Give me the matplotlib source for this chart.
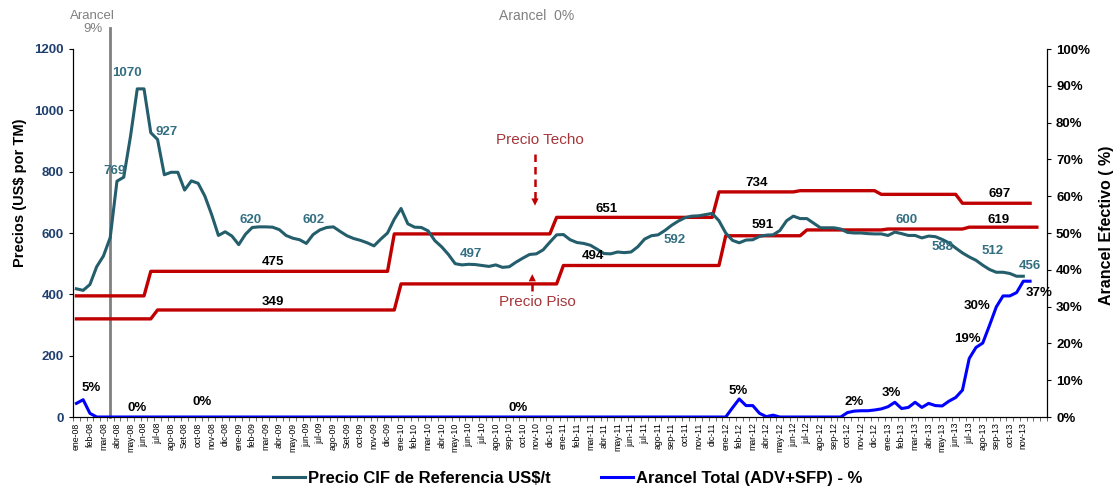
import matplotlib.pyplot as plt
import numpy as np

plt.rcParams['font.family'] = ['Liberation Sans', 'DejaVu Sans']

#---------------- data (semi-monthly, ene-08 .. nov-13)

meses = ['ene', 'feb', 'mar', 'abr', 'may', 'jun', 'jul', 'ago', 'sep', 'oct', 'nov', 'dic']
anios = ['08', '09', '10', '11', '12', '13']

precio_cif = [418, 413, 432, 490, 525, 585, 769, 782, 915, 1070, 1070, 927, 905, 790, 798, 798,
              740, 770, 762, 720, 660, 592, 604, 590, 562, 596, 618, 620, 620, 619, 611, 592,
              583, 578, 566, 595, 610, 618, 620, 605, 591, 582, 576, 568, 558, 580, 600, 645,
              680, 630, 619, 618, 607, 575, 555, 530, 500, 496, 498, 497, 494, 491, 496, 488,
              490, 505, 518, 530, 532, 545, 570, 594, 595, 578, 569, 566, 560, 547, 533, 532,
              538, 536, 538, 555, 580, 591, 594, 608, 625, 639, 650, 655, 656, 660, 664, 640,
              600, 576, 568, 577, 578, 589, 593, 594, 608, 640, 655, 647, 647, 632, 617, 617,
              617, 613, 602, 600, 600, 598, 597, 597, 592, 603, 598, 592, 592, 584, 590, 588,
              579, 568, 551, 535, 522, 511, 495, 481, 472, 472, 468, 459, 459]

# price band: level and number of half-month periods at that level
techo_nivel = [395, 475, 597, 651, 734, 738, 726, 697]
techo_periodos = [11, 36, 24, 24, 12, 12, 12, 11]
piso_nivel = [320, 349, 434, 494, 591, 610, 613, 619]
piso_periodos = [12, 36, 24, 24, 12, 12, 12, 11]

arancel = ([3.7, 4.7, 1.0] + [0.0] * 94 +
           [2.5, 4.9, 3.1, 3.1, 1.0, 0.1, 0.5] + [0.0] * 10 +
           [1.2, 1.6, 1.7, 1.7, 1.9, 2.2, 2.8, 4.0, 2.3, 2.6, 4.0, 2.6, 3.7, 3.1, 3.0,
            4.3, 5.3, 7.3, 15.9, 18.9, 20.1, 24.9, 29.9, 32.9, 32.9, 33.8, 36.9, 36.9])

precio_techo = np.repeat(techo_nivel, techo_periodos)
precio_piso = np.repeat(piso_nivel, piso_periodos)

etiquetas = []
for a in anios:
    for m in meses:
        if m == 'sep' and a in ('08', '09'):
            m = 'Set'
        etiquetas.append(m + '-' + a)
etiquetas = etiquetas[:-1]          # last label shown is nov-13

#---------------- figure

teal = '#245d6b'
teal_txt = '#336f81'
rojo = '#c00000'
azul = '#0000ff'
gris = '#808080'

fig = plt.figure(figsize=(11.16, 4.86), dpi=100)
ax = fig.add_axes([73/1116, 1-417/486, 974/1116, 368/486])
ax2 = ax.twinx()

x = np.arange(len(precio_cif))
l1, = ax.plot(x, precio_cif, color=teal, lw=2.2, zorder=4)
ax.plot(np.arange(len(precio_techo)), precio_techo, color=rojo, lw=2.4, zorder=3)
ax.plot(np.arange(len(precio_piso)), precio_piso, color=rojo, lw=2.4, zorder=3)
l2, = ax2.plot(np.arange(len(arancel)), arancel, color=azul, lw=2.2)

ax.set_xlim(-0.5, 143.5)
ax.set_ylim(0, 1200)
ax2.set_ylim(0, 100)

ax.set_xticks(np.arange(0, 2*len(etiquetas), 2))
ax.set_xticklabels(etiquetas, rotation=90, fontsize=6.3)
ax.set_xticks(np.arange(-0.5, 144, 1), minor=True)
ax.tick_params(axis='x', which='major', length=0, pad=4)
ax.tick_params(axis='x', which='minor', length=3, color='#555555')

ax.set_yticks(np.arange(0, 1201, 200))
ax.tick_params(axis='y', length=3, labelsize=9.5, labelcolor='#1f3f6e')
for t in ax.get_yticklabels():
    t.set_fontweight('bold')
ax2.set_yticks(np.arange(0, 101, 10))
ax2.set_yticklabels([f'{v}%' for v in range(0, 101, 10)])
ax2.tick_params(axis='y', length=3, labelsize=9.5)
for t in ax2.get_yticklabels():
    t.set_fontweight('bold')

for a_ in (ax, ax2):
    a_.spines['top'].set_visible(False)

ax.set_ylabel('Precios (US$ por TM)', fontsize=10.5, fontweight='bold')
ax.yaxis.set_label_coords(-0.0472, 0.61)
ax2.set_ylabel('Arancel Efectivo ( %)', fontsize=11.5, fontweight='bold')
ax2.yaxis.set_label_coords(1.0534, 0.52)

#---------------- arancel 9% line and header texts
ax.plot([5, 5], [0, 1268], color=gris, lw=2, clip_on=False, zorder=2)
ax.text(2.4, 1287, 'Arancel\n9%', color=gris, fontsize=9.5, ha='center', va='center',
        linespacing=1.1)
ax.text(68, 1308, 'Arancel  0%', color=gris, fontsize=10, ha='center', va='center')

#---------------- value labels
for txt, xi, yi in [('769', 5.7, 801), ('1070', 7.5, 1122), ('927', 13.4, 929),
                    ('620', 25.8, 644), ('602', 35.0, 644), ('497', 58.4, 530),
                    ('592', 88.5, 577), ('600', 122.7, 644), ('588', 128.1, 554),
                    ('512', 135.4, 541), ('456', 140.9, 491)]:
    ax.text(xi, yi, txt, color=teal_txt, fontsize=9.5, fontweight='bold', ha='center', va='center', zorder=5)

for txt, xi, yi in [('475', 29.1, 505), ('349', 29.1, 374), ('651', 78.4, 679),
                    ('494', 76.3, 524), ('734', 100.6, 762), ('591', 101.5, 625),
                    ('697', 136.5, 726), ('619', 136.3, 644)]:
    ax.text(xi, yi, txt, color='black', fontsize=9.5, fontweight='bold', ha='center', va='center', zorder=5)

for txt, xi, yi in [('5%', 2.2, 7.8), ('0%', 9.0, 2.4), ('0%', 18.6, 4.1), ('0%', 65.3, 2.4),
                    ('5%', 97.8, 7.1), ('2%', 115, 4.0), ('3%', 120.5, 6.4), ('19%', 131.8, 21.1),
                    ('30%', 133.1, 30.1), ('37%', 142.4, 33.7)]:
    ax2.text(xi, yi, txt, color='black', fontsize=9.5, fontweight='bold', ha='center', va='center')

#---------------- Precio Techo / Precio Piso with dashed arrows
ax.text(68.5, 904, 'Precio Techo', color='#a5373b', fontsize=11, ha='center', va='center')
ax.text(68.2, 376, 'Precio Piso', color='#a5373b', fontsize=11, ha='center', va='center')
ax.plot([67.8, 67.8], [857, 700], color=rojo, lw=1.8, ls=(0, (3, 2)))
ax.annotate('', xy=(67.8, 680), xytext=(67.8, 705),
            arrowprops=dict(arrowstyle='-|>', color=rojo, lw=0, mutation_scale=13))
ax.plot([67.4, 67.4], [412, 455], color=rojo, lw=1.8, ls=(0, (3, 2)))
ax.annotate('', xy=(67.4, 475), xytext=(67.4, 450),
            arrowprops=dict(arrowstyle='-|>', color=rojo, lw=0, mutation_scale=13))

#---------------- legend
fig.legend([l1, l2], ['Precio CIF de Referencia US$/t', 'Arancel Total (ADV+SFP) - %'],
           loc='center', bbox_to_anchor=(568/1116, 1-478/486), ncol=2, frameon=False,
           prop={'weight': 'bold', 'size': 12}, handlelength=1.9, handletextpad=0.2,
           columnspacing=3.0)

plt.savefig('out.png', dpi=100)
